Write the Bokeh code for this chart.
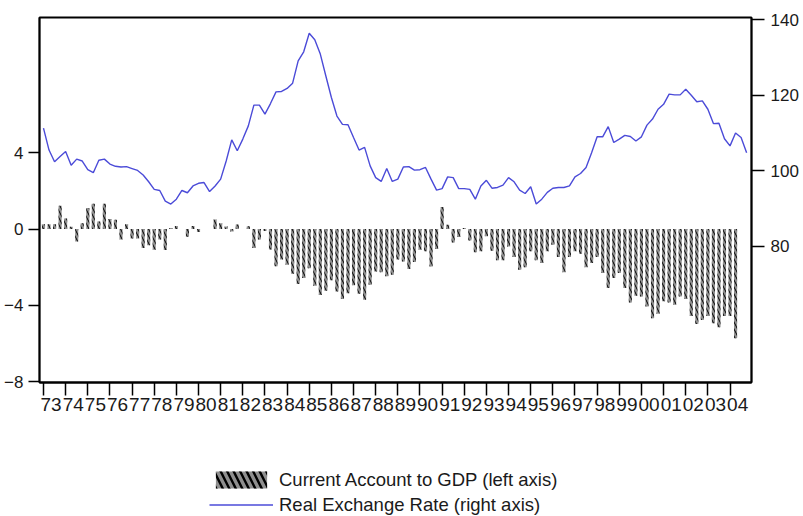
from bokeh.plotting import figure
from bokeh.layouts import column
from bokeh.models import Range1d, LinearAxis, FixedTicker, Legend, LegendItem, ColumnDataSource
from bokeh.embed import file_html
from bokeh.resources import INLINE

# ---------------- data (quarterly, starting 1973Q1) ----------------
start_year = 1973

# Current account to GDP, % (left axis), 1973Q1 .. 2004Q2
ca_gdp = [
    0.25, 0.25, 0.25, 1.22, 0.55, 0.12, -0.65, 0.30, 1.10, 1.33,
    0.40, 1.33, 0.52, 0.48, -0.55, 0.25, -0.50, -0.50, -1.00, -0.85,
    -1.08, -0.55, -1.10, 0.05, 0.16, 0.00, -0.40, 0.16, -0.16, 0.00,
    0.00, 0.50, 0.30, 0.13, -0.13, 0.24, 0.00, 0.15, -1.00, -0.55,
    -0.10, -1.07, -1.95, -1.60, -1.87, -2.34, -2.88, -2.57, -2.05, -2.97,
    -3.46, -3.23, -2.69, -3.27, -3.67, -3.36, -2.95, -3.39, -3.71, -2.92,
    -2.22, -2.27, -2.48, -2.40, -1.60, -1.70, -2.10, -1.73, -1.08, -1.17,
    -1.96, -1.05, 1.15, 0.23, -0.70, -0.42, 0.05, -0.60, -1.22, -1.17,
    -0.38, -1.14, -1.64, -1.64, -0.91, -1.47, -2.13, -2.00, -1.17, -1.64,
    -1.78, -1.17, -0.82, -1.47, -2.27, -1.47, -1.17, -1.29, -2.00, -1.78,
    -1.47, -2.31, -3.09, -2.57, -2.31, -3.09, -3.85, -3.50, -3.53, -4.06,
    -4.67, -4.44, -3.79, -3.85, -3.97, -3.53, -3.67, -4.55, -4.97, -4.76,
    -4.55, -4.93, -5.14, -4.55, -4.55, -5.72,
]

# Real exchange rate index (right axis), 1973Q1 .. 2004Q4
rer = [
    111.3, 105.5, 102.4, 103.8, 105.1, 101.5, 103.1, 102.6, 100.3, 99.5,
    102.8, 103.1, 101.8, 101.2, 101.0, 101.1, 100.6, 100.1, 98.9, 97.1,
    95.1, 94.8, 92.0, 91.2, 92.5, 94.8, 94.2, 96.0, 96.7, 96.9,
    94.5, 96.0, 97.8, 102.6, 108.2, 105.3, 108.4, 111.9, 117.4, 117.4,
    115.0, 117.8, 120.9, 121.0, 121.8, 123.2, 129.1, 131.5, 136.4, 134.7,
    130.9, 125.1, 119.4, 114.5, 112.3, 112.2, 108.8, 105.5, 106.2, 101.3,
    98.2, 97.2, 100.6, 97.2, 97.8, 101.0, 101.1, 100.2, 100.3, 100.9,
    97.8, 94.9, 95.3, 98.4, 98.2, 95.3, 95.3, 95.1, 92.5, 96.0,
    97.5, 95.4, 95.6, 96.2, 98.2, 97.1, 94.9, 94.0, 95.8, 91.2,
    92.5, 94.3, 95.4, 95.6, 95.6, 96.0, 98.4, 99.3, 100.9, 104.8,
    109.0, 109.0, 111.7, 107.5, 108.4, 109.4, 109.1, 107.9, 109.0, 112.1,
    113.7, 116.3, 117.6, 120.3, 120.1, 120.1, 121.6, 120.0, 118.3, 118.5,
    116.3, 112.5, 112.6, 108.5, 106.6, 110.0, 108.8, 104.8,
]

year_ticks = list(range(1973, 2005))
year_labels = ["%02d" % (y % 100) for y in year_ticks]
left_ticks = [-8, -4, 0, 4]
right_ticks = [80, 100, 120, 140]
legend_labels = ["Current Account to GDP (left axis)", "Real Exchange Rate (right axis)"]

# ---------------- styles ----------------
FONT = "Liberation Sans"
TXT = "#1a1a1a"
BAR_STYLE = dict(fill_color="#8f8f8f", line_color=None, hatch_pattern="\\",
                 hatch_color="black", hatch_scale=7, hatch_weight=1.0)
LEG_BAR_STYLE = dict(fill_color="#8f8f8f", line_color=None, hatch_pattern="\\",
                     hatch_color="black", hatch_scale=13, hatch_weight=2.4)
LINE_STYLE = dict(line_color="#4b4bd8", line_width=1.4)

# ---------------- main chart ----------------
ca_src = ColumnDataSource(dict(x=[start_year + i / 4 for i in range(len(ca_gdp))], y=ca_gdp))
rer_src = ColumnDataSource(dict(x=[start_year + i / 4 for i in range(len(rer))], y=rer))

p = figure(width=801, height=422, output_backend="svg", toolbar_location=None,
           x_range=Range1d(1972.82, 2004.97), y_range=Range1d(-8.04, 11.08),
           x_axis_type=None, y_axis_type=None,
           min_border_left=39, min_border_right=49, min_border_top=17, min_border_bottom=40)
p.extra_y_ranges = {"rer": Range1d(43.98, 140.58)}
p.outline_line_color = "black"
p.outline_line_width = 1.8
p.background_fill_color = "white"
p.border_fill_color = "white"

bars = p.vbar(x="x", top="y", bottom=0, width=0.14, source=ca_src, **BAR_STYLE)
line = p.line(x="x", y="y", source=rer_src, y_range_name="rer", **LINE_STYLE)


def style_axis(ax, size):
    ax.axis_line_color = "black"
    ax.axis_line_width = 1.8
    ax.major_tick_line_color = "black"
    ax.major_tick_line_width = 1.5
    ax.major_tick_in = 0
    ax.minor_tick_in = 0
    ax.minor_tick_out = 0
    ax.major_label_text_font = FONT
    ax.major_label_text_font_size = size
    ax.major_label_text_color = TXT


left_ax = LinearAxis(ticker=FixedTicker(ticks=left_ticks))
style_axis(left_ax, "17px")
left_ax.major_tick_out = 11
left_ax.major_label_standoff = 5
p.add_layout(left_ax, "left")

right_ax = LinearAxis(y_range_name="rer", ticker=FixedTicker(ticks=right_ticks))
style_axis(right_ax, "17px")
right_ax.major_tick_out = 13
right_ax.major_label_standoff = 6
p.add_layout(right_ax, "right")

# tick marks at the start of each year
tick_ax = LinearAxis(ticker=FixedTicker(ticks=year_ticks))
style_axis(tick_ax, "0px")
tick_ax.major_tick_out = 13
tick_ax.major_label_standoff = 0
tick_ax.major_label_overrides = {y: "" for y in year_ticks}
p.add_layout(tick_ax, "below")

# year labels, set a little to the right of each tick
shift = 0.34375
label_pos = [y + shift for y in year_ticks]
label_ax = LinearAxis(ticker=FixedTicker(ticks=label_pos))
style_axis(label_ax, "19px")
label_ax.axis_line_color = None
label_ax.major_tick_line_color = None
label_ax.major_tick_out = 0
label_ax.major_label_standoff = 2
label_ax.major_label_overrides = {pos: lab for pos, lab in zip(label_pos, year_labels)}
p.add_layout(label_ax, "below")

# ---------------- legend strip below the chart ----------------
# hidden proxies of the two series: only their legend entries are drawn
leg = figure(width=801, height=94, output_backend="svg", toolbar_location=None,
             x_range=Range1d(0, 1), y_range=Range1d(0, 1),
             x_axis_type=None, y_axis_type=None, min_border=0)
leg.outline_line_color = None
leg.background_fill_color = "white"
leg.border_fill_color = "white"
leg_bar = leg.vbar(x="x", top="y", bottom=0, width=0.14, source=ca_src, visible=False, **LEG_BAR_STYLE)
leg_line = leg.line(x="x", y="y", source=rer_src, visible=False, **LINE_STYLE)

legend = Legend(items=[
    LegendItem(label=legend_labels[0], renderers=[leg_bar]),
    LegendItem(label=legend_labels[1], renderers=[leg_line]),
], location=(170, -1))
legend.padding = 0
legend.margin = 0
legend.spacing = 0
legend.border_line_color = None
legend.background_fill_alpha = 0
legend.inactive_fill_alpha = 0
legend.glyph_width = 64
legend.glyph_height = 21
legend.label_height = 25
legend.label_standoff = 6
legend.label_text_font = FONT
legend.label_text_font_size = "18.5px"
legend.label_text_color = TXT
leg.add_layout(legend)

layout = column(p, leg, spacing=0)
open("out.html", "w").write(file_html(layout, INLINE))
